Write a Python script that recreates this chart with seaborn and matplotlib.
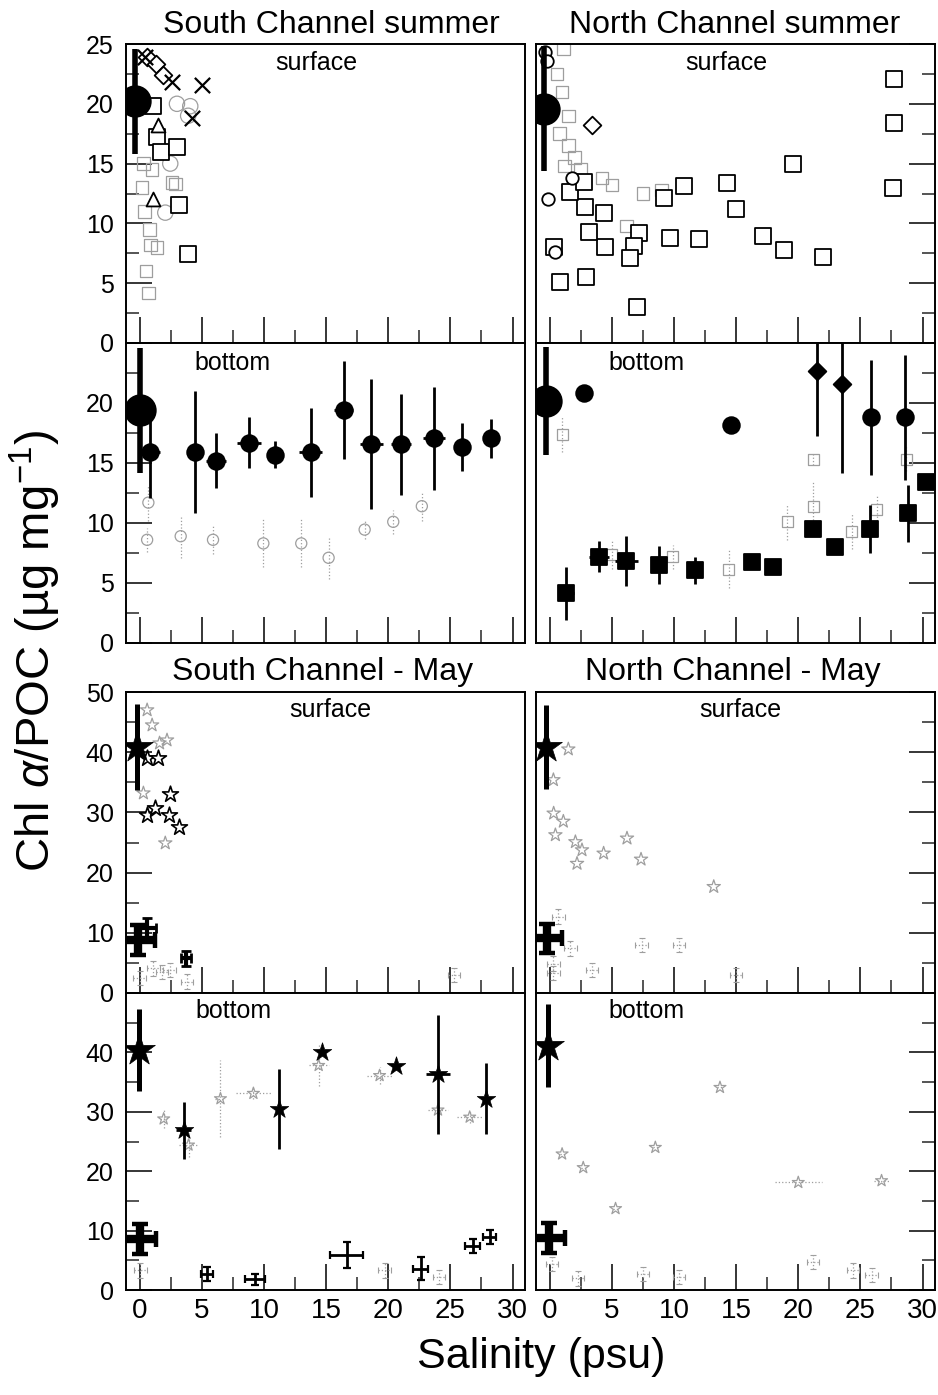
import numpy as np
import matplotlib
matplotlib.use("Agg")
import matplotlib.pyplot as plt
from matplotlib.ticker import MultipleLocator, FuncFormatter
import seaborn as sns

# ---------------------------------------------------------------- data
# South Channel, summer, surface
scs_surf_mean = dict(x=[-0.35], y=[20.2], yerr=[4.4])
scs_surf_diam_x = [0.6, 1.3, 1.9]
scs_surf_diam_y = [23.9, 23.3, 22.4]
scs_surf_x_x = [0.45, 2.6, 5.0, 4.2]
scs_surf_x_y = [23.9, 21.85, 21.6, 18.8]
scs_surf_sq_x = [1.1, 1.4, 1.7, 3.0, 3.2, 3.85]
scs_surf_sq_y = [19.8, 17.25, 16.0, 16.4, 11.5, 7.4]
scs_surf_tri_x = [1.5, 1.07]
scs_surf_tri_y = [18.2, 12.0]
scs_surf_faint_o_x = [3.0, 4.07, 2.46, 2.06, 3.9]
scs_surf_faint_o_y = [20.0, 19.8, 15.0, 10.9, 19.0]
scs_surf_faint_s_x = [0.7, 0.86, 1.4, 2.6, 2.9, 0.2, 0.4, 0.3, 0.8, 0.5, 1.0]
scs_surf_faint_s_y = [4.2, 8.2, 8.0, 13.4, 13.3, 13.0, 11.0, 15.0, 9.5, 6.0, 14.5]

# North Channel, summer, surface
ncs_surf_mean = dict(x=[-0.48], y=[19.6], yerr=[5.2])
ncs_surf_circ_x = [-0.35, -0.2, -0.1, 0.45, 1.8]
ncs_surf_circ_y = [24.3, 23.6, 12.0, 7.6, 13.8]
ncs_surf_diam_x = [3.4]
ncs_surf_diam_y = [18.2]
ncs_surf_sq_x = [27.7, 27.7, 27.65, 19.57, 14.26, 15.0, 10.77, 9.16, 17.2, 18.87,
                 21.98, 9.7, 12.0, 7.15, 6.75, 6.5, 7.0, 4.48, 3.14, 4.34,
                 2.87, 1.6, 2.73, 0.86, 2.95, 0.32]
ncs_surf_sq_y = [22.1, 18.4, 13.0, 15.0, 13.35, 11.2, 13.1, 12.1, 8.95, 7.8,
                 7.2, 8.8, 8.7, 9.2, 8.1, 7.1, 3.0, 8.05, 9.3, 10.85,
                 11.4, 12.6, 13.5, 5.1, 5.5, 8.05]
ncs_surf_faint_x = [0.6, 1.0, 1.5, 0.8, 1.5, 2.0, 2.5, 1.2, 5.0, 4.2, 7.5, 9.0, 6.2, 1.1]
ncs_surf_faint_y = [22.5, 21.0, 19.0, 17.5, 16.5, 15.5, 14.5, 14.8, 13.2, 13.8, 12.5, 12.8, 9.8, 24.6]

# South Channel, summer, bottom
scs_bot_mean = dict(x=[0.0], y=[19.4], yerr=[5.2])
scs_bot_circ_x = [0.8, 4.47, 6.13, 8.8, 10.9, 13.75, 16.4, 18.65, 21.0, 23.7, 25.9, 28.3]
scs_bot_circ_y = [15.9, 15.9, 15.2, 16.7, 15.7, 15.9, 19.4, 16.6, 16.55, 17.05, 16.3, 17.05]
scs_bot_circ_yerr = [3.8, 5.1, 2.3, 2.1, 1.1, 3.7, 4.1, 5.4, 4.2, 4.3, 2.0, 1.6]
scs_bot_circ_xerr = [0.8, 0.0, 0.8, 1.0, 0.0, 0.9, 0.8, 0.9, 0.8, 0.9, 0.6, 0.5]
scs_bot_faint_x = [0.7, 3.3, 5.9, 9.95, 13.0, 15.2, 18.1, 20.4, 22.7, 0.6]
scs_bot_faint_y = [11.7, 8.9, 8.6, 8.3, 8.3, 7.1, 9.45, 10.1, 11.4, 8.6]
scs_bot_faint_yerr = [1.5, 1.8, 1.2, 2.0, 2.0, 1.8, 0.8, 1.0, 1.2, 1.0]

# North Channel, summer, bottom
ncs_bot_mean = dict(x=[-0.3], y=[20.2], yerr=[4.5])
ncs_bot_circ_x = [2.73, 14.6, 25.84, 28.6]
ncs_bot_circ_y = [20.8, 18.2, 18.8, 18.8]
ncs_bot_circ_yerr = [0.0, 0.0, 4.8, 5.2]
ncs_bot_diam_x = [21.5, 23.55]
ncs_bot_diam_y = [22.7, 21.6]
ncs_bot_diam_yerr = [5.45, 7.4]
ncs_bot_sq_x = [1.34, 4.0, 6.17, 8.76, 11.7, 16.3, 17.96, 21.17, 22.97, 25.78, 28.86, 30.25]
ncs_bot_sq_y = [4.15, 7.2, 6.85, 6.5, 6.05, 6.75, 6.3, 9.5, 8.0, 9.5, 10.8, 13.4]
ncs_bot_sq_yerr = [2.2, 1.3, 2.1, 1.6, 1.1, 0.0, 0.0, 0.0, 0.0, 2.0, 2.4, 0.0]
ncs_bot_sq_xerr = [0.6, 0.8, 0.9, 0.5, 0.3, 0.0, 0.0, 0.0, 0.0, 0.0, 0.0, 0.0]
ncs_bot_faint_x = [1.0, 5.0, 9.9, 14.4, 19.1, 21.2, 24.3, 26.3, 28.7, 21.2]
ncs_bot_faint_y = [17.4, 7.4, 7.2, 6.15, 10.1, 11.4, 9.3, 11.1, 15.3, 15.3]
ncs_bot_faint_yerr = [1.5, 1.2, 1.0, 1.6, 1.5, 2.0, 1.5, 1.2, 1.0, 0.5]

# South Channel, May, surface
scm_surf_star_mean = dict(x=[-0.2], y=[40.9], yerr=[7.1])
scm_surf_cross_mean = dict(x=[-0.1], y=[8.8], xerr=[1.3], yerr=[2.5])
scm_surf_star_x = [0.6, 1.5, 2.4, 0.6, 1.26, 2.33, 3.13]
scm_surf_star_y = [39.0, 39.0, 33.0, 29.5, 30.7, 29.6, 27.6]
scm_surf_cross_x = [0.6, 3.75]
scm_surf_cross_y = [10.8, 5.75]
scm_surf_cross_xerr = [0.7, 0.4]
scm_surf_cross_yerr = [1.6, 1.2]
scm_surf_faint_star_x = [2.2, 0.6, 1.0, 0.3, 2.06, 1.6]
scm_surf_faint_star_y = [42.0, 47.0, 44.5, 33.2, 24.9, 41.5]
scm_surf_faint_cross_x = [1.1, 0.0, 3.8, 25.3, 1.8, 2.4]
scm_surf_faint_cross_y = [4.1, 2.5, 1.9, 3.0, 3.5, 3.8]

# North Channel, May, surface
ncm_surf_star_mean = dict(x=[-0.27], y=[40.9], yerr=[7.0])
ncm_surf_cross_mean = dict(x=[-0.2], y=[9.1], xerr=[1.2], yerr=[2.4])
ncm_surf_faint_star_x = [0.32, 1.1, 0.46, 2.07, 2.6, 2.2, 4.34, 6.22, 7.35, 13.2, 0.3, 1.5]
ncm_surf_faint_star_y = [29.85, 28.5, 26.25, 25.1, 23.75, 21.5, 23.2, 25.7, 22.2, 17.65, 35.4, 40.5]
ncm_surf_faint_cross_x = [0.7, 1.66, 7.4, 10.4, 3.4, 0.3, 0.3, 15.0]
ncm_surf_faint_cross_y = [12.7, 7.4, 8.0, 8.0, 3.8, 4.9, 3.3, 3.0]

# South Channel, May, bottom
scm_bot_star_mean = dict(x=[-0.07], y=[40.4], yerr=[6.9])
scm_bot_cross_mean = dict(x=[0.0], y=[8.6], xerr=[1.3], yerr=[2.5])
scm_bot_star_x = [3.53, 11.2, 14.65, 20.6, 24.0, 27.9]
scm_bot_star_y = [26.9, 30.5, 40.0, 37.7, 36.3, 32.2]
scm_bot_star_yerr = [4.8, 6.7, 0.0, 0.0, 10.0, 6.0]
scm_bot_star_xerr = [0.6, 0.0, 0.0, 0.0, 1.0, 0.0]
scm_bot_cross_x = [16.65, 22.6, 26.8, 28.15, 5.4, 9.3]
scm_bot_cross_y = [5.95, 3.6, 7.4, 8.9, 2.65, 1.8]
scm_bot_cross_xerr = [1.3, 0.6, 0.6, 0.5, 0.5, 0.8]
scm_bot_cross_yerr = [2.2, 1.9, 1.2, 1.2, 1.2, 0.9]
scm_bot_faint_star_x = [1.93, 3.93, 6.5, 9.15, 14.4, 19.3, 24.0, 26.55]
scm_bot_faint_star_y = [28.8, 24.4, 32.2, 33.1, 37.8, 36.1, 30.3, 29.1]
scm_bot_faint_star_yerr = [1.5, 2.0, 6.5, 1.0, 3.5, 1.5, 1.5, 1.0]
scm_bot_faint_star_xerr = [0.3, 0.8, 0.4, 1.4, 0.8, 1.0, 0.8, 1.0]
scm_bot_faint_cross_x = [0.06, 19.7, 24.1]
scm_bot_faint_cross_y = [3.3, 3.3, 2.2]

# North Channel, May, bottom
ncm_bot_star_mean = dict(x=[-0.16], y=[41.1], yerr=[7.0])
ncm_bot_cross_mean = dict(x=[-0.08], y=[8.75], xerr=[1.3], yerr=[2.5])
ncm_bot_faint_star_x = [1.0, 2.7, 5.3, 8.5, 13.7, 20.0, 26.7]
ncm_bot_faint_star_y = [22.9, 20.6, 13.7, 24.0, 34.1, 18.1, 18.4]
ncm_bot_faint_star_xerr = [0.2, 0.2, 0.2, 0.2, 0.2, 1.9, 0.6]
ncm_bot_faint_cross_x = [21.2, 24.4, 25.9, 2.3, 7.5, 10.4, 0.2]
ncm_bot_faint_cross_y = [4.7, 3.3, 2.5, 1.95, 2.65, 2.2, 4.4]

panel_titles = ["South Channel summer", "North Channel summer",
                "South Channel - May", "North Channel - May"]
layer_names = ["surface", "bottom"]
x_label = "Salinity (psu)"
y_label = r"Chl $\mathit{\alpha}$/POC (µg mg$^{-1}$)"

# ---------------------------------------------------------------- style
sns.set_theme(style="ticks")
plt.rcParams["font.family"] = ["Liberation Sans", "DejaVu Sans"]
plt.rcParams["mathtext.fontset"] = "custom"
plt.rcParams["mathtext.rm"] = "Liberation Sans"
plt.rcParams["mathtext.it"] = "Liberation Sans:italic"
plt.rcParams["axes.linewidth"] = 1.4
plt.rcParams["axes.edgecolor"] = "black"

INK = "black"
FAINT = "0.62"


def pts(ax, x, y, marker, ms, face=INK, edge=INK, lw=1.3, z=4):
    sns.scatterplot(x=np.asarray(x, float), y=np.asarray(y, float), marker=marker,
                    s=ms ** 2, ax=ax, legend=False, zorder=z)
    coll = ax.collections[-1]
    coll.set_facecolor(face)
    coll.set_edgecolor(edge)
    coll.set_linewidth(lw)


def bars(ax, x, y, yerr=None, xerr=None, lw=2.0, color=INK, z=3, cap=0, capw=1.5, ls="-"):
    eb = ax.errorbar(x, y, yerr=yerr, xerr=xerr, fmt="none", ecolor=color,
                     elinewidth=lw, capsize=cap, capthick=capw, zorder=z)
    for c in eb[2]:
        c.set_linestyle(ls)
    return eb


def faint(ax, x, y, marker, ms=7, yerr=None, xerr=None):
    if yerr is not None or xerr is not None:
        bars(ax, x, y, yerr=yerr, xerr=xerr, lw=0.9, color=FAINT, z=2, ls=":")
    pts(ax, x, y, marker, ms, face="none", edge=FAINT, lw=0.9, z=2)


def faint_cross(ax, x, y):
    n = len(x)
    bars(ax, x, y, yerr=[1.2] * n, xerr=[0.5] * n, lw=0.9, color=FAINT, z=2,
         cap=2, capw=0.8, ls=":")


def big_mean_circle(ax, m):
    bars(ax, m["x"], m["y"], yerr=m["yerr"], lw=4.0, z=5)
    pts(ax, m["x"], m["y"], "o", 22, z=6)


def mean_star(ax, m):
    bars(ax, m["x"], m["y"], yerr=m["yerr"], lw=3.6, z=5)
    pts(ax, m["x"], m["y"], "*", 24, lw=0.5, z=6)


def mean_cross(ax, m):
    bars(ax, m["x"], m["y"], yerr=m["yerr"], xerr=m["xerr"], lw=6.0, z=5,
         cap=6.0, capw=3.2)


# ---------------------------------------------------------------- layout
fig = plt.figure(figsize=(9.38, 13.95), dpi=100)
FW, FH = 938.0, 1395.0
col_left = [126 / FW, 536 / FW]
col_w = 399 / FW
row_px = [(44, 343), (343, 643), (692, 993), (993, 1290)]

axes = {}
for r, (top, bot) in enumerate(row_px):
    for c in range(2):
        axes[(r, c)] = fig.add_axes([col_left[c], 1 - bot / FH, col_w, (bot - top) / FH])

# ---------------------------------------------------------------- A: SC summer surface
ax = axes[(0, 0)]
faint(ax, scs_surf_faint_o_x, scs_surf_faint_o_y, "o", 11)
faint(ax, scs_surf_faint_s_x, scs_surf_faint_s_y, "s", 9)
pts(ax, scs_surf_diam_x, scs_surf_diam_y, "D", 9, face="white")
pts(ax, scs_surf_x_x, scs_surf_x_y, "x", 11, lw=1.6)
pts(ax, scs_surf_sq_x, scs_surf_sq_y, "s", 11, face="white")
pts(ax, scs_surf_tri_x, scs_surf_tri_y, "^", 10, face="white")
big_mean_circle(ax, scs_surf_mean)

# ---------------------------------------------------------------- B: NC summer surface
ax = axes[(0, 1)]
faint(ax, ncs_surf_faint_x, ncs_surf_faint_y, "s", 9)
pts(ax, ncs_surf_sq_x, ncs_surf_sq_y, "s", 11, face="white")
pts(ax, ncs_surf_circ_x, ncs_surf_circ_y, "o", 9, face="white")
pts(ax, ncs_surf_diam_x, ncs_surf_diam_y, "D", 9, face="white")
big_mean_circle(ax, ncs_surf_mean)

# ---------------------------------------------------------------- C: SC summer bottom
ax = axes[(1, 0)]
faint(ax, scs_bot_faint_x, scs_bot_faint_y, "o", 8, yerr=scs_bot_faint_yerr)
bars(ax, scs_bot_circ_x, scs_bot_circ_y, yerr=scs_bot_circ_yerr, xerr=scs_bot_circ_xerr, lw=2.0)
pts(ax, scs_bot_circ_x, scs_bot_circ_y, "o", 12)
big_mean_circle(ax, scs_bot_mean)

# ---------------------------------------------------------------- D: NC summer bottom
ax = axes[(1, 1)]
faint(ax, ncs_bot_faint_x, ncs_bot_faint_y, "s", 8, yerr=ncs_bot_faint_yerr)
bars(ax, ncs_bot_circ_x, ncs_bot_circ_y, yerr=ncs_bot_circ_yerr, lw=2.0)
pts(ax, ncs_bot_circ_x, ncs_bot_circ_y, "o", 12)
bars(ax, ncs_bot_diam_x, ncs_bot_diam_y, yerr=ncs_bot_diam_yerr, lw=2.0)
pts(ax, ncs_bot_diam_x, ncs_bot_diam_y, "D", 9)
bars(ax, ncs_bot_sq_x, ncs_bot_sq_y, yerr=ncs_bot_sq_yerr, xerr=ncs_bot_sq_xerr, lw=2.0)
pts(ax, ncs_bot_sq_x, ncs_bot_sq_y, "s", 12)
big_mean_circle(ax, ncs_bot_mean)

# ---------------------------------------------------------------- E: SC May surface
ax = axes[(2, 0)]
faint(ax, scm_surf_faint_star_x, scm_surf_faint_star_y, "*", 10)
faint_cross(ax, scm_surf_faint_cross_x, scm_surf_faint_cross_y)
pts(ax, scm_surf_star_x, scm_surf_star_y, "*", 12, face="white", lw=1.2)
bars(ax, scm_surf_cross_x, scm_surf_cross_y, yerr=scm_surf_cross_yerr,
     xerr=scm_surf_cross_xerr, lw=3.0, cap=3.5, capw=2.0)
mean_star(ax, scm_surf_star_mean)
mean_cross(ax, scm_surf_cross_mean)

# ---------------------------------------------------------------- F: NC May surface
ax = axes[(2, 1)]
faint(ax, ncm_surf_faint_star_x, ncm_surf_faint_star_y, "*", 10)
faint_cross(ax, ncm_surf_faint_cross_x, ncm_surf_faint_cross_y)
mean_star(ax, ncm_surf_star_mean)
mean_cross(ax, ncm_surf_cross_mean)

# ---------------------------------------------------------------- G: SC May bottom
ax = axes[(3, 0)]
faint(ax, scm_bot_faint_star_x, scm_bot_faint_star_y, "*", 9,
      yerr=scm_bot_faint_star_yerr, xerr=scm_bot_faint_star_xerr)
faint_cross(ax, scm_bot_faint_cross_x, scm_bot_faint_cross_y)
bars(ax, scm_bot_star_x, scm_bot_star_y, yerr=scm_bot_star_yerr, xerr=scm_bot_star_xerr, lw=2.0)
pts(ax, scm_bot_star_x, scm_bot_star_y, "*", 14, lw=0.5)
bars(ax, scm_bot_cross_x, scm_bot_cross_y, yerr=scm_bot_cross_yerr,
     xerr=scm_bot_cross_xerr, lw=2.0, cap=3.0, capw=1.6)
mean_star(ax, scm_bot_star_mean)
mean_cross(ax, scm_bot_cross_mean)

# ---------------------------------------------------------------- H: NC May bottom
ax = axes[(3, 1)]
faint(ax, ncm_bot_faint_star_x, ncm_bot_faint_star_y, "*", 9, xerr=ncm_bot_faint_star_xerr)
faint_cross(ax, ncm_bot_faint_cross_x, ncm_bot_faint_cross_y)
mean_star(ax, ncm_bot_star_mean)
mean_cross(ax, ncm_bot_cross_mean)

# ---------------------------------------------------------------- axes formatting
def skip_top(top):
    return FuncFormatter(lambda v, p: "" if abs(v - top) < 1e-6 else f"{v:g}")


for (r, c), ax in axes.items():
    ax.set_xlabel("")
    ax.set_ylabel("")
    ax.set_xlim(-1.1, 31.0)
    ax.xaxis.set_major_locator(MultipleLocator(5))
    ax.xaxis.set_minor_locator(MultipleLocator(2.5))
    if r < 2:
        ax.set_ylim(0, 25)
        ax.yaxis.set_major_locator(MultipleLocator(5))
        ax.yaxis.set_minor_locator(MultipleLocator(2.5))
        top = 25
    else:
        ax.set_ylim(0, 50)
        ax.yaxis.set_major_locator(MultipleLocator(10))
        ax.yaxis.set_minor_locator(MultipleLocator(5))
        top = 50
    ax.tick_params(axis="x", which="major", direction="in", length=18.5, width=1.1,
                   bottom=True, top=False, colors=INK)
    ax.tick_params(axis="x", which="minor", direction="in", length=9.5, width=1.1,
                   bottom=True, top=False)
    ax.tick_params(axis="y", which="major", direction="in", length=18.5, width=1.1,
                   labelsize=18, pad=9, colors=INK)
    ax.tick_params(axis="y", which="minor", direction="in", length=9.5, width=1.1)
    if c == 0:
        ax.tick_params(axis="y", which="both", left=True, right=False, labelleft=True)
        if r in (1, 3):
            ax.yaxis.set_major_formatter(skip_top(top))
    else:
        ax.tick_params(axis="y", which="both", left=False, right=True,
                       labelleft=False, labelright=False)
    if r == 3:
        ax.tick_params(axis="x", labelbottom=True, pad=6, labelsize=20)
    else:
        ax.tick_params(axis="x", labelbottom=False)
    for sp in ax.spines.values():
        sp.set_visible(True)
        sp.set_linewidth(1.4)
        sp.set_color(INK)

# layer labels inside panels
layer_pos = {(0, 0): (0.477, 0.913), (0, 1): (0.477, 0.913),
             (1, 0): (0.267, 0.91), (1, 1): (0.276, 0.91),
             (2, 0): (0.511, 0.917), (2, 1): (0.511, 0.917),
             (3, 0): (0.27, 0.916), (3, 1): (0.278, 0.916)}
for (r, c), (fx, fy) in layer_pos.items():
    axes[(r, c)].text(fx, fy, layer_names[r % 2], transform=axes[(r, c)].transAxes,
                      ha="center", va="baseline", fontsize=18, color=INK)

# panel titles
title_pos = [(331, 33), (735, 33), (323, 680), (733, 680)]
for t, (px, py) in zip(panel_titles, title_pos):
    fig.text(px / FW, 1 - py / FH, t, ha="center", va="baseline", fontsize=23, color=INK)

fig.text(35 / FW, 1 - 651 / FH, y_label, rotation=90, ha="center", va="center",
         fontsize=34, color=INK)
fig.text(541 / FW, 1 - 1357 / FH, x_label, ha="center", va="center",
         fontsize=31, color=INK)

fig.savefig("out.png", dpi=100, facecolor="white")
